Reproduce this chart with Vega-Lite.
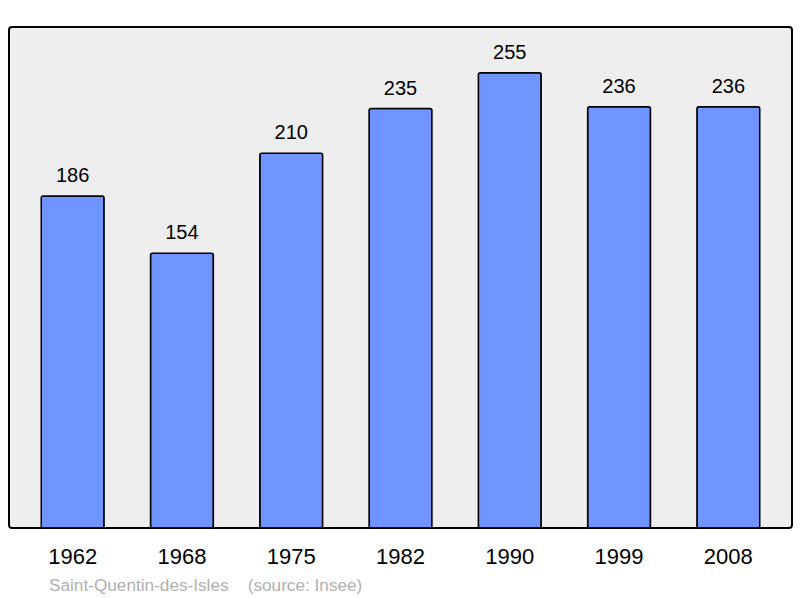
{
  "$schema": "https://vega.github.io/schema/vega-lite/v6.json",
  "autosize": "none",
  "width": 783,
  "height": 501,
  "padding": {"left": 9, "top": 27, "right": 8, "bottom": 70},
  "background": "white",
  "view": {"fill": "#eeeeee", "stroke": "#000000", "strokeWidth": 2, "cornerRadius": 3},
  "config": {"font": "Liberation Sans"},
  "title": {
    "text": "Saint-Quentin-des-Isles\u00a0\u00a0\u00a0\u00a0(source: Insee)",
    "orient": "bottom",
    "anchor": "start",
    "dx": 40,
    "offset": 10,
    "fontSize": 17.2,
    "fontWeight": "normal",
    "color": "#b0b0b0",
    "font": "Liberation Sans"
  },
  "data": {
    "values": [
      {"year": "1962", "pop": 186},
      {"year": "1968", "pop": 154},
      {"year": "1975", "pop": 210},
      {"year": "1982", "pop": 235},
      {"year": "1990", "pop": 255},
      {"year": "1999", "pop": 236},
      {"year": "2008", "pop": 236}
    ]
  },
  "encoding": {
    "x": {
      "field": "year",
      "type": "nominal",
      "sort": null,
      "scale": {"paddingInner": 0.425, "paddingOuter": 0.295},
      "axis": {
        "title": null,
        "domain": false,
        "ticks": false,
        "labelAngle": 0,
        "labelFontSize": 22,
        "labelColor": "#000000",
        "labelPadding": 18,
        "labelFont": "Liberation Sans"
      }
    },
    "y": {
      "field": "pop",
      "type": "quantitative",
      "scale": {"domain": [0, 280.7], "nice": false},
      "axis": null
    }
  },
  "layer": [
    {
      "mark": {"type": "bar", "fill": "#7094ff", "stroke": "#000000", "strokeWidth": 1.5, "cornerRadius": 2}
    },
    {
      "mark": {"type": "text", "baseline": "bottom", "dy": -10, "fontSize": 20, "color": "#000000"},
      "encoding": {"text": {"field": "pop", "type": "quantitative"}}
    }
  ]
}
